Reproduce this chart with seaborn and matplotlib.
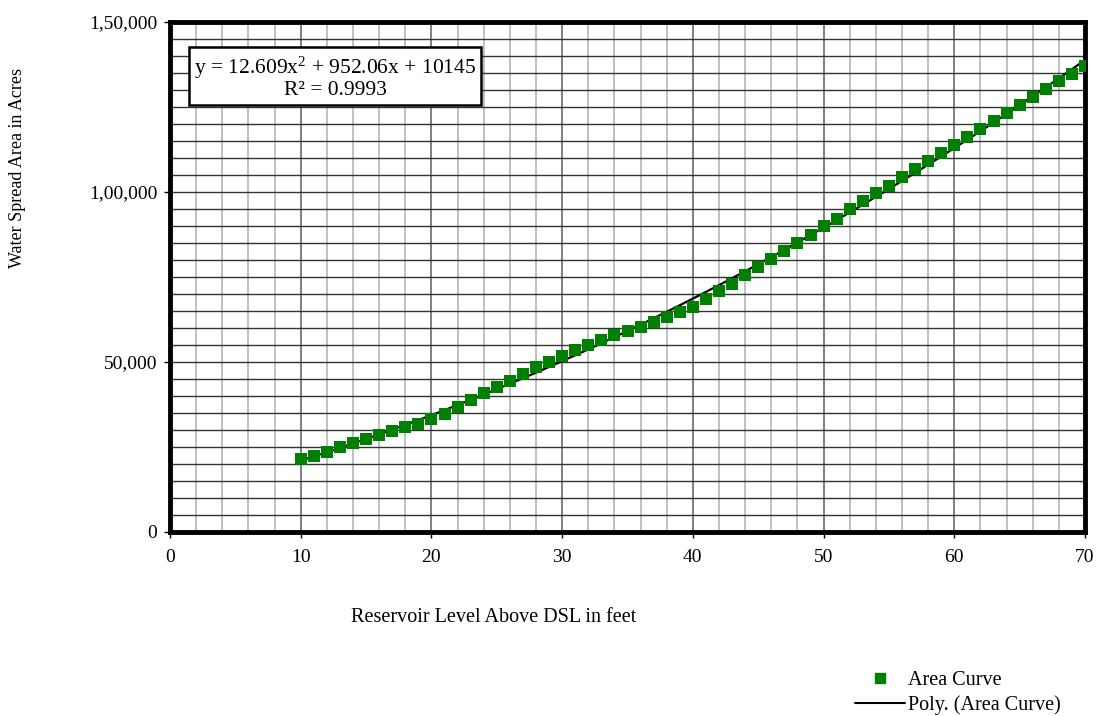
import numpy as np
import pandas as pd
import matplotlib
matplotlib.use("Agg")
import matplotlib.pyplot as plt
import seaborn as sns
from matplotlib.lines import Line2D

# ---- data ----
levels = list(range(10, 71))
areas = [21400, 22450, 23600, 25000, 26200, 27400, 28600, 29650, 30950, 31900,
         33200, 34800, 36800, 38800, 40800, 42700, 44500, 46400, 48400, 50000,
         51900, 53400, 54900, 56400, 57800, 59100, 60300, 61800, 63200, 64700,
         66300, 68500, 70900, 73000, 75600, 78000, 80400, 82700, 85000, 87400,
         89900, 92200, 95000, 97300, 99600, 101900, 104400, 106700, 109000, 111500,
         113900, 116200, 118500, 121000, 123200, 125600, 127900, 130200, 132600, 134700,
         137200]
x_ticks = [0, 10, 20, 30, 40, 50, 60, 70]
y_ticks = [0, 50000, 100000, 150000]
y_tick_labels = ["0", "50,000", "1,00,000", "1,50,000"]
series_name = "Area Curve"
trend_name = "Poly. (Area Curve)"
eq_text = "y = 12.609x$^{2}$ + 952.06x + 10145\nR² = 0.9993"

df = pd.DataFrame({"level": levels, "area": areas})
coef = np.polyfit(df["level"], df["area"], 2)
xs = np.linspace(min(levels), max(levels), 200)
trend = pd.DataFrame({"level": xs, "area": np.polyval(coef, xs)})

sns.set_style("white")
plt.rcParams["font.family"] = ["Liberation Serif", "DejaVu Serif"]
plt.rcParams["mathtext.fontset"] = "custom"
plt.rcParams["mathtext.rm"] = "Liberation Serif"
plt.rcParams["mathtext.it"] = "Liberation Serif"
plt.rcParams["text.color"] = "black"
plt.rcParams["xtick.color"] = "black"
plt.rcParams["ytick.color"] = "black"
plt.rcParams["axes.labelcolor"] = "black"

W, H = 1097, 716
fig = plt.figure(figsize=(W / 100, H / 100), dpi=100)
ax = fig.add_axes([170 / W, 1 - 532 / H, (1085 - 170) / W, (532 - 22) / H])

# grid
for xv in np.arange(2, 70, 2):
    ax.axvline(xv, color="#808080" if xv % 10 == 0 else "#c0c0c0", lw=1.4, zorder=0)
for yv in np.arange(5000, 150000, 5000):
    ax.axhline(yv, color="#333333", lw=1.0, zorder=0)

sns.lineplot(data=trend, x="level", y="area", ax=ax, color="black", lw=1.6,
             zorder=3, legend=False)
sns.scatterplot(data=df, x="level", y="area", ax=ax, marker="s", s=75,
                color="#008000", edgecolor="#008000", linewidth=0, zorder=4,
                legend=False)

ax.set_xlim(0, 70)
ax.set_ylim(0, 150000)
ax.set_xticks(x_ticks)
ax.set_yticks(y_ticks)
ax.set_yticklabels(y_tick_labels)
ax.tick_params(axis="both", labelsize=14, length=4, width=1, color="black",
               labelcolor="black", direction="out", pad=5)
ax.tick_params(axis="x", pad=8)
ax.xaxis.set_ticks_position("bottom")
ax.yaxis.set_ticks_position("left")
ax.set_xlabel("")
ax.set_ylabel("")
for sp in ax.spines.values():
    sp.set_visible(True)
    sp.set_color("black")
    sp.set_linewidth(3.5)

fig.text(18 / W, 1 - 168 / H, "Water Spread Area in Acres", rotation=90,
         ha="center", va="center", fontsize=13)
fig.text(494 / W, 1 - 617 / H, "Reservoir Level Above DSL in feet",
         ha="center", va="center", fontsize=14.5)

ax.text((335 - 170) / (1085 - 170), 1 - (77 - 22) / 510, eq_text,
        transform=ax.transAxes, ha="center", va="center", fontsize=15.5,
        linespacing=1.0, zorder=6,
        bbox=dict(boxstyle="square,pad=0.25", fc="white", ec="black", lw=1.8))

handles = [Line2D([], [], marker="s", color="#008000", ls="none", markersize=7),
           Line2D([], [], color="black", lw=1.5)]
fig.legend(handles, [series_name, trend_name], loc="center left",
           bbox_to_anchor=(855 / W, 1 - 693 / H), frameon=False, fontsize=14.5,
           handlelength=2.5, handletextpad=0.15, labelspacing=0.25,
           borderpad=0, borderaxespad=0)

fig.savefig("out.png", dpi=100)
